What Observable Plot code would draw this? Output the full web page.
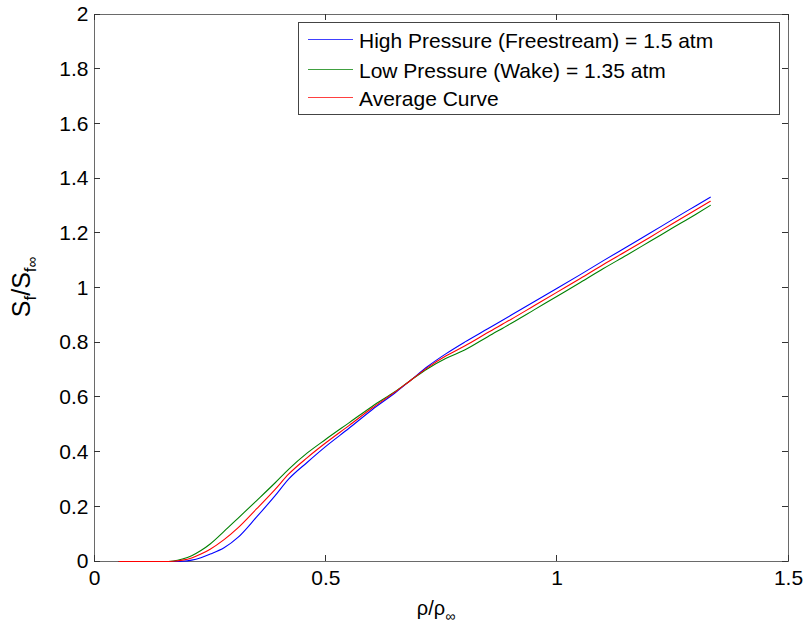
<!DOCTYPE html>
<html>
<head>
<meta charset="utf-8">
<script src="https://cdn.jsdelivr.net/npm/d3@7"></script>
<script src="https://cdn.jsdelivr.net/npm/@observablehq/plot@0.6"></script>
<style>
  html, body { margin: 0; padding: 0; background: #fff; overflow: hidden; }
</style>
</head>
<body>
<div id="chart"></div>
<script>
// ---- data ----
const rho = [0.053, 0.10, 0.15, 0.17, 0.19, 0.21, 0.23, 0.25, 0.28, 0.31, 0.35, 0.39, 0.42, 0.46, 0.50, 0.55, 0.60, 0.65, 0.683, 0.72, 0.76, 0.80, 0.85, 0.90, 0.95, 1.00, 1.05, 1.10, 1.15, 1.20, 1.25, 1.30, 1.331];
const highPressure = [0, 0, 0, 0, 0.001, 0.005, 0.014, 0.027, 0.050, 0.088, 0.162, 0.240, 0.302, 0.363, 0.421, 0.487, 0.555, 0.617, 0.662, 0.713, 0.760, 0.802, 0.851, 0.900, 0.950, 0.999, 1.049, 1.100, 1.150, 1.200, 1.251, 1.301, 1.332];
const lowPressure = [0, 0, 0, 0.002, 0.009, 0.021, 0.040, 0.064, 0.110, 0.158, 0.222, 0.287, 0.338, 0.397, 0.447, 0.507, 0.567, 0.622, 0.662, 0.705, 0.743, 0.773, 0.822, 0.870, 0.920, 0.970, 1.020, 1.071, 1.120, 1.170, 1.220, 1.270, 1.302];
const averageCurve = [0, 0, 0, 0.001, 0.005, 0.013, 0.027, 0.045, 0.080, 0.123, 0.192, 0.263, 0.320, 0.380, 0.434, 0.497, 0.561, 0.620, 0.662, 0.709, 0.752, 0.788, 0.837, 0.885, 0.935, 0.985, 1.035, 1.086, 1.135, 1.185, 1.236, 1.286, 1.317];

const seriesNames = ["High Pressure (Freestream) = 1.5 atm", "Low Pressure (Wake) = 1.35 atm", "Average Curve"];
const seriesColors = ["#0000ff", "#008000", "#ff0000"];

const xTicks = [0, 0.5, 1, 1.5];
const xTickLabels = ["0", "0.5", "1", "1.5"];
const yTicks = [0, 0.2, 0.4, 0.6, 0.8, 1, 1.2, 1.4, 1.6, 1.8, 2];
const yTickLabels = ["0", "0.2", "0.4", "0.6", "0.8", "1", "1.2", "1.4", "1.6", "1.8", "2"];

// ---- table for Plot ----
const allSeries = [highPressure, lowPressure, averageCurve];
const rows = [];
allSeries.forEach((vals, s) => {
  vals.forEach((v, i) => rows.push({x: rho[i], y: v, series: seriesNames[s]}));
});

const FONT = "'Liberation Sans', Arial, sans-serif";
const FS = 21;
const frameColor = "#6a6a6a";
const tickColor = "#333";
const TS = 6;
const W = 806, H = 628, ML = 94, MR = 18, MT = 14, MB = 67;

const plot = Plot.plot({
  width: W,
  height: H,
  marginLeft: ML,
  marginRight: MR,
  marginTop: MT,
  marginBottom: MB,
  style: {fontFamily: FONT, fontSize: FS + "px", color: "#000", background: "#fff", maxWidth: "none"},
  x: {domain: [0, 1.5], label: null, axis: null},
  y: {domain: [0, 2], label: null, axis: null},
  color: {domain: seriesNames, range: seriesColors},
  marks: [
    Plot.frame({stroke: frameColor}),
    Plot.axisX(xTicks, {anchor: "bottom", tickSize: 0, tickPadding: 9, fontSize: FS, fill: "#000", label: null,
      tickFormat: (d) => xTickLabels[xTicks.indexOf(d)]}),
    Plot.axisY(yTicks, {anchor: "left", tickSize: 0, tickPadding: 6, fontSize: FS, fill: "#000", label: null,
      tickFormat: (d) => yTickLabels[yTicks.indexOf(d)]}),
    Plot.line(rows, {x: "x", y: "y", z: "series", stroke: "series", strokeWidth: 1.1, curve: "monotone-x"})
  ]
});

document.getElementById("chart").appendChild(plot);

const svg = d3.select(plot);
const sx = plot.scale("x"), sy = plot.scale("y");
const x0 = ML, x1 = W - MR, y0 = H - MB, y1 = MT;

// ---- inward tick marks on all four sides, positioned through Plot's scales ----
const tg = svg.append("g").attr("stroke", tickColor).attr("stroke-width", 1).attr("shape-rendering", "crispEdges");
xTicks.forEach((t) => {
  const px = sx.apply(t);
  tg.append("line").attr("x1", px).attr("x2", px).attr("y1", y0).attr("y2", y0 - TS);
  tg.append("line").attr("x1", px).attr("x2", px).attr("y1", y1).attr("y2", y1 + TS);
});
yTicks.forEach((t) => {
  const py = sy.apply(t);
  tg.append("line").attr("x1", x0).attr("x2", x0 + TS).attr("y1", py).attr("y2", py);
  tg.append("line").attr("x1", x1).attr("x2", x1 - TS).attr("y1", py).attr("y2", py);
});

// ---- axis titles with subscripts ----
const xl = svg.append("text")
  .attr("x", 436).attr("y", 615)
  .attr("text-anchor", "middle")
  .style("font-family", FONT).style("font-size", "20px").attr("fill", "#000");
xl.append("tspan").text("ρ/ρ");
xl.append("tspan").attr("dy", 6).style("font-size", "14px").text("∞");

const yl = svg.append("text")
  .attr("transform", "translate(30,287) rotate(-90)")
  .attr("text-anchor", "middle")
  .style("font-family", FONT).style("font-size", "25px").attr("fill", "#000");
yl.append("tspan").text("S");
yl.append("tspan").attr("dy", 6).style("font-size", "17px").text("f");
yl.append("tspan").attr("dy", -6).text("/S");
yl.append("tspan").attr("dy", 6).style("font-size", "17px").text("f");
yl.append("tspan").attr("dy", 1).style("font-size", "15px").text("∞");

// ---- legend ----
const lg = svg.append("g");
lg.append("rect").attr("x", 298.5).attr("y", 22.5).attr("width", 481).attr("height", 92)
  .attr("fill", "#fff").attr("stroke", "#444").attr("stroke-width", 1);
const rowY = [39.5, 69.5, 97.5];
seriesNames.forEach((name, i) => {
  lg.append("line").attr("x1", 308).attr("x2", 353).attr("y1", rowY[i]).attr("y2", rowY[i])
    .attr("stroke", seriesColors[i]).attr("stroke-width", 1.2).attr("stroke-opacity", 0.75);
  lg.append("text").attr("x", 359).attr("y", rowY[i] + 8)
    .attr("text-anchor", "start")
    .style("font-family", FONT).style("font-size", FS + "px").attr("fill", "#000").text(name);
});
</script>
</body>
</html>
